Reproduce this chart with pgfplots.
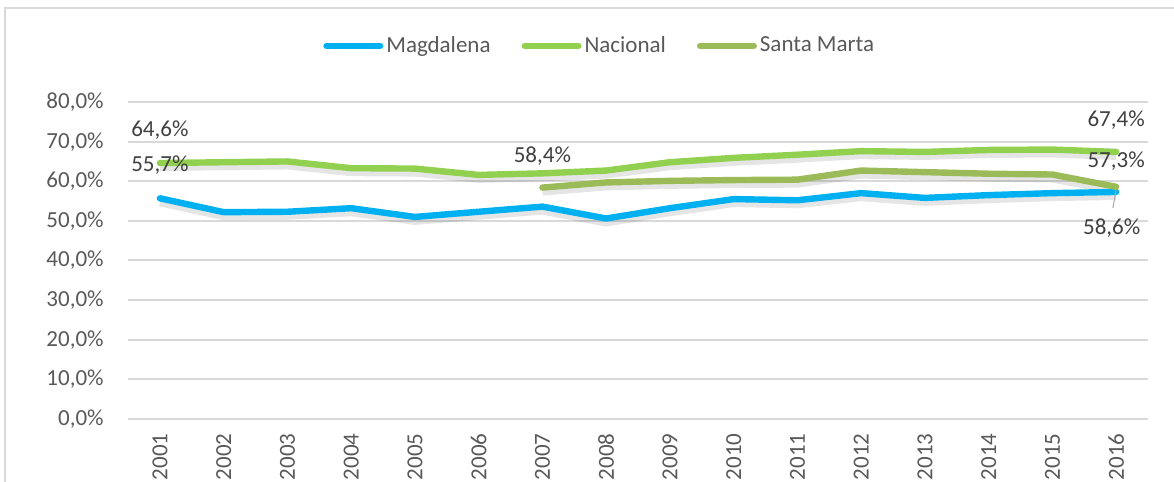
\documentclass[border=0pt]{standalone}
\usepackage{fontspec}
\setmainfont{Carlito}
\usepackage{pgfplots}
\pgfplotsset{compat=1.18}
\definecolor{cMag}{HTML}{00B0F0}
\definecolor{cNac}{HTML}{92D050}
\definecolor{cSM}{HTML}{9BBB59}
\definecolor{gridc}{HTML}{D9D9D9}
\definecolor{txt}{HTML}{595959}
\definecolor{lbl}{HTML}{404040}
\begin{document}
\begin{tikzpicture}
\useasboundingbox (0,0) rectangle (587pt,241pt);
\draw[gridc, line width=1pt] (2.5pt,0) -- (2.5pt,237pt) -- (587pt,237pt);
\begin{axis}[
  at={(64pt,31.5pt)}, anchor=south west,
  width=510pt, height=158.5pt, scale only axis,
  xmin=2000.5, xmax=2016.5, ymin=0, ymax=80,
  clip=false,
  axis line style={draw=none},
  major tick length=0pt,
  ymajorgrids, grid style={gridc, line width=1pt},
  ytick={0,10,...,80},
  yticklabels={{0,0\%},{10,0\%},{20,0\%},{30,0\%},{40,0\%},{50,0\%},{60,0\%},{70,0\%},{80,0\%}},
  xtick={2001,2002,2003,2004,2005,2006,2007,2008,2009,2010,2011,2012,2013,2014,2015,2016},
  xticklabels={2001,2002,2003,2004,2005,2006,2007,2008,2009,2010,2011,2012,2013,2014,2015,2016},
  tick label style={font=\fontsize{11.5pt}{13pt}\selectfont, text=txt},
  yticklabel style={anchor=east, inner sep=0pt},
  yticklabel shift=12pt,
  xticklabel style={rotate=90, anchor=east, inner sep=0pt},
  xticklabel shift=7pt,
  legend style={at={(0.463,1.177)}, anchor=center, draw=none, fill=none,
    legend columns=3, font=\fontsize{11.5pt}{13pt}\selectfont, text=txt,
    nodes={inner sep=1.5pt},
    /tikz/every even column/.append style={column sep=14pt}},
  legend image code/.code={\draw[#1, line width=3pt, line cap=round] (0pt,0pt) -- (27pt,0pt);},
]
% shadows
\addplot[black, opacity=0.10, line width=4pt, forget plot, yshift=-2pt] coordinates {
(2001,55.7)(2002,52.2)(2003,52.3)(2004,53.2)(2005,51.0)(2006,52.3)(2007,53.6)(2008,50.6)
(2009,53.2)(2010,55.5)(2011,55.2)(2012,57.0)(2013,55.8)(2014,56.5)(2015,57.0)(2016,57.3)};
\addplot[black, opacity=0.10, line width=4pt, forget plot, yshift=-2pt] coordinates {
(2001,64.6)(2002,64.8)(2003,65.0)(2004,63.3)(2005,63.2)(2006,61.6)(2007,62.0)(2008,62.7)
(2009,64.8)(2010,65.9)(2011,66.7)(2012,67.6)(2013,67.4)(2014,67.9)(2015,68.0)(2016,67.4)};
\addplot[black, opacity=0.10, line width=4pt, forget plot, yshift=-2pt] coordinates {
(2007,58.4)(2008,59.7)(2009,60.1)(2010,60.3)(2011,60.4)(2012,62.7)(2013,62.3)(2014,61.9)(2015,61.7)(2016,58.6)};
% series
\addplot[cMag, line width=3.2pt, line cap=round, line join=round] coordinates {
(2001,55.7)(2002,52.2)(2003,52.3)(2004,53.2)(2005,51.0)(2006,52.3)(2007,53.6)(2008,50.6)
(2009,53.2)(2010,55.5)(2011,55.2)(2012,57.0)(2013,55.8)(2014,56.5)(2015,57.0)(2016,57.3)};
\addlegendentry{Magdalena}
\addplot[cNac, line width=3.2pt, line cap=round, line join=round] coordinates {
(2001,64.6)(2002,64.8)(2003,65.0)(2004,63.3)(2005,63.2)(2006,61.6)(2007,62.0)(2008,62.7)
(2009,64.8)(2010,65.9)(2011,66.7)(2012,67.6)(2013,67.4)(2014,67.9)(2015,68.0)(2016,67.4)};
\addlegendentry{Nacional}
\addplot[cSM, line width=3.2pt, line cap=round, line join=round] coordinates {
(2007,58.4)(2008,59.7)(2009,60.1)(2010,60.3)(2011,60.4)(2012,62.7)(2013,62.3)(2014,61.9)(2015,61.7)(2016,58.6)};
\addlegendentry{Santa Marta}
% data labels
\begin{scope}[every node/.style={font=\fontsize{11.5pt}{13pt}\selectfont, text=lbl, inner sep=0pt}]
\node at (axis cs:2001,73.0) {64,6\%};
\node at (axis cs:2001,64.1) {55,7\%};
\node at (axis cs:2007,66.4) {58,4\%};
\node at (axis cs:2016,75.5) {67,4\%};
\node at (axis cs:2016,65.2) {57,3\%};
\node at (axis cs:2015.93,48.2) {58,6\%};
\end{scope}
\draw[gray!70, line width=0.5pt] (axis cs:2016,57.8) -- (axis cs:2015.95,53.3);
\end{axis}
\end{tikzpicture}
\end{document}
